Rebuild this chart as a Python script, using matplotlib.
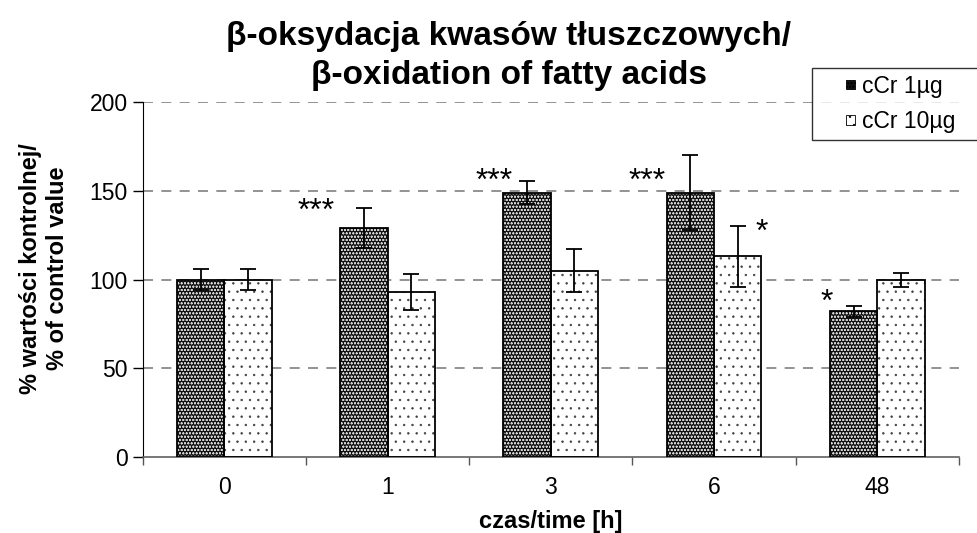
import matplotlib
matplotlib.use("Agg")
import matplotlib.pyplot as plt
import matplotlib.patches as mpatches
from matplotlib.legend_handler import HandlerPatch
import numpy as np

plt.rcParams['font.family'] = ['Liberation Sans', 'DejaVu Sans']

# data
times = ["0", "1", "3", "6", "48"]
cr1 = [100, 129, 149, 149, 82]
cr1_err = [6, 11.5, 6.5, 21, 3]
cr10 = [100, 93, 105, 113, 99.5]
cr10_err = [6, 10, 12, 17, 4]
labels = ["cCr 1µg", "cCr 10µg"]

# significance marks: (group index, text, x offset, y)
stars = [(1, "***", -0.44, 140), (2, "***", -0.35, 157), (3, "***", -0.41, 157),
         (3, "*", 0.29, 128), (4, "*", -0.31, 89)]

x = np.arange(len(times))
w = 0.29

fig = plt.figure(figsize=(9.78, 5.33), dpi=100)
ax = fig.add_axes([0.146, 0.1426, 0.8344, 0.666])

# grid
for v in [50, 100, 150, 200]:
    ax.axhline(v, color='#808080', lw=1.2, ls=(0, (6, 5)), zorder=0)

plt.rcParams['hatch.linewidth'] = 0.5
# dark bars: black face with white dots
ax.bar(x - w / 2, cr1, w, color='#121212', hatch='ooooo', edgecolor='#d0d0d0', lw=0, zorder=2)
ax.bar(x - w / 2, cr1, w, fill=False, edgecolor='black', lw=1.3, zorder=3)
# light bars: white face with grey dots
ax.bar(x + w / 2, cr10, w, color='white', hatch='..', edgecolor='#404040', lw=0, zorder=2)
ax.bar(x + w / 2, cr10, w, fill=False, edgecolor='black', lw=1.3, zorder=3)

ax.errorbar(x - w / 2, cr1, yerr=cr1_err, fmt='none', ecolor='black', elinewidth=1.3,
            capsize=6, capthick=1.3, zorder=4)
ax.errorbar(x + w / 2, cr10, yerr=cr10_err, fmt='none', ecolor='black', elinewidth=1.3,
            capsize=6, capthick=1.3, zorder=4)

for i, s, dx, y in stars:
    ax.text(x[i] + dx, y - 2, s, ha='center', va='center', fontsize=23)

ax.set_xlim(-0.5, len(times) - 0.5)
ax.set_ylim(0, 200)
ax.set_yticks([0, 50, 100, 150, 200])
ax.tick_params(axis='y', labelsize=16.5, length=7, width=1, direction='out', pad=4)
ax.set_xticks(x)
ax.set_xticklabels(times)
ax.set_xticks(np.arange(len(times) + 1) - 0.5, minor=True)
ax.tick_params(axis='x', which='major', length=0, labelsize=16.5, pad=14)
ax.tick_params(axis='x', which='minor', length=6, width=1, color='#555555', direction='out')
for sp in ['top', 'right']:
    ax.spines[sp].set_visible(False)
ax.spines['left'].set_color('black')
ax.spines['bottom'].set_color('#606060')
ax.spines['bottom'].set_linewidth(1.2)

fig.text(0.52, 0.895, "β-oksydacja kwasów tłuszczowych/\nβ-oxidation of fatty acids",
         ha='center', va='center', fontsize=24, fontweight='bold', linespacing=1.3)
fig.text(0.045, 0.497, "% wartości kontrolnej/\n% of control value", rotation=90,
         ha='center', va='center', fontsize=17, fontweight='bold', linespacing=1.25)
fig.text(0.563, 0.0225, "czas/time [h]", ha='center', va='center', fontsize=17,
         fontweight='bold')


def small_box(legend, orig_handle, xdescent, ydescent, width, height, fontsize):
    s = 7.0
    return mpatches.Rectangle((width - s - xdescent, (height - s) / 2 - ydescent), s, s)


h1 = mpatches.Patch(facecolor='#121212', hatch='ooooo', edgecolor='#d0d0d0', lw=0.6)
h2 = mpatches.Patch(facecolor='white', hatch='..', edgecolor='#404040', lw=0.6)
leg = fig.legend([h1, h2], labels, loc='upper left', bbox_to_anchor=(0.83, 0.873, 0.2, 0),
                 mode='expand',
                 fontsize=16.5, frameon=True, fancybox=False, edgecolor='black',
                 handlelength=1.6, handleheight=0.7, handletextpad=0.3,
                 borderpad=0.3, labelspacing=0.55, borderaxespad=0,
                 handler_map={mpatches.Patch: HandlerPatch(patch_func=small_box)})
leg.get_frame().set_linewidth(1)
for p in leg.get_patches():
    p.set_edgecolor('black')
    p.set_linewidth(0.6)

fig.savefig("out.png", dpi=100)
